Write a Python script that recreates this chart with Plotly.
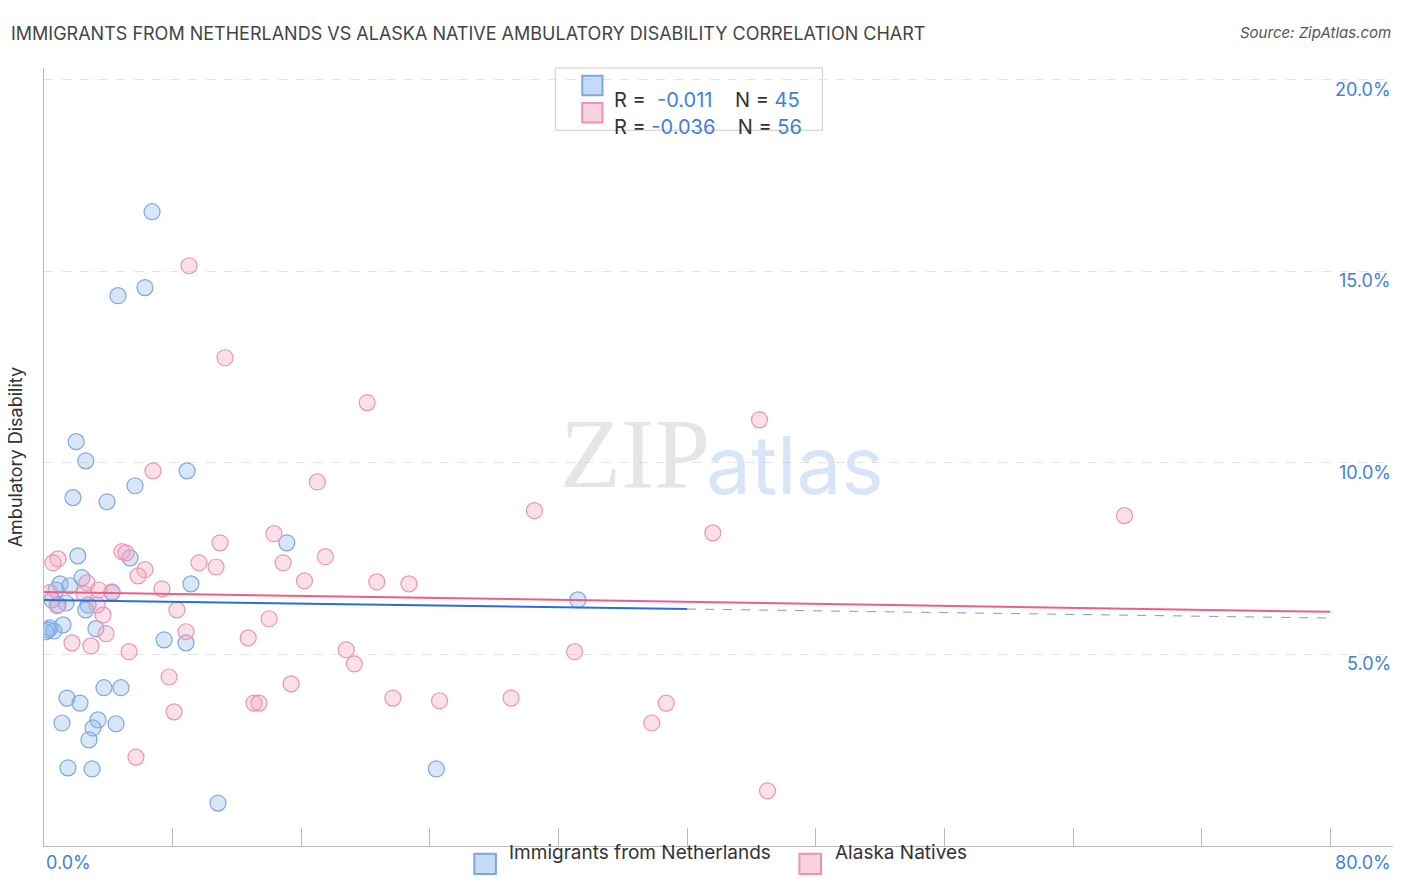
import plotly.graph_objects as go

blue_x = [6.72,6.28,4.6,2.0,2.6,8.9,5.66,1.8,3.92,15.1,2.1,5.35,2.36,1.0,1.6,9.14,4.23,0.75,33.2,2.74,0.87,1.37,1.18,3.23,0.37,0.62,0.25,7.47,8.83,1.43,3.73,4.79,2.24,3.36,1.12,4.48,3.05,2.8,1.49,2.99,24.4,10.82,0.5,0.12,2.6]
blue_y = [16.55,14.57,14.36,10.55,10.05,9.79,9.4,9.09,8.98,7.91,7.57,7.52,7.0,6.84,6.79,6.84,6.61,6.68,6.42,6.29,6.29,6.34,5.77,5.67,5.69,5.61,5.64,5.38,5.3,3.86,4.13,4.13,3.73,3.29,3.21,3.19,3.08,2.77,2.04,2.01,2.01,1.12,6.42,5.59,6.16]
pink_x = [9.02,11.26,20.1,44.5,6.78,17.0,30.5,67.2,41.6,14.3,10.95,4.85,5.1,17.5,0.87,0.56,9.64,10.7,14.87,6.28,5.85,20.7,16.2,22.7,2.67,7.34,4.23,2.49,0.37,3.67,3.3,0.81,8.27,14.0,3.86,8.83,12.7,1.74,2.92,5.29,18.8,33.0,19.3,7.78,15.37,21.7,29.05,24.6,13.06,13.37,38.7,8.09,37.8,5.72,45.0,3.4]
pink_y = [15.14,12.74,11.57,11.12,9.79,9.5,8.75,8.62,8.17,8.15,7.91,7.68,7.65,7.55,7.49,7.39,7.39,7.28,7.39,7.21,7.05,6.89,6.92,6.84,6.87,6.71,6.63,6.58,6.61,6.03,6.29,6.27,6.16,5.93,5.54,5.59,5.43,5.3,5.22,5.07,5.12,5.07,4.75,4.41,4.23,3.86,3.86,3.79,3.73,3.73,3.73,3.5,3.21,2.32,1.44,6.68]
blue_trend = (6.42, -0.0059)   # intercept, slope
pink_trend = (6.63, -0.0065)
y_ticks = [5, 10, 15, 20]
x_ticks = [0, 8, 16, 24, 32, 40, 48, 56, 64, 72, 80]

BLUE = "#3f7fd9"; PINK = "#e8608a"
fig = go.Figure()
fig.add_trace(go.Scatter(x=blue_x, y=blue_y, mode="markers",
    marker=dict(size=16, color="rgba(143,184,236,0.35)", line=dict(color="#7aa8e6", width=1.2))))
fig.add_trace(go.Scatter(x=pink_x, y=pink_y, mode="markers",
    marker=dict(size=16, color="rgba(244,167,192,0.35)", line=dict(color="#eb94b1", width=1.2))))
b0, b1 = blue_trend
fig.add_trace(go.Scatter(x=[0, 40], y=[b0, b0 + b1*40], mode="lines", line=dict(color="#2b6fd6", width=2)))
fig.add_trace(go.Scatter(x=[40, 80], y=[b0 + b1*40, b0 + b1*80], mode="lines", line=dict(color="#6fa0e0", width=1, dash="dash")))
p0, p1 = pink_trend
fig.add_trace(go.Scatter(x=[0, 80], y=[p0, p0 + p1*80], mode="lines", line=dict(color=PINK, width=2)))

ann = []
for t in y_ticks:
    ann.append(dict(x=1, xref="paper", y=t, yref="y", text=f"{t:.1f}%", showarrow=False,
                    xanchor="right", yanchor="bottom", yshift=-22, font=dict(size=18, color=BLUE)))
ann += [
    dict(x=0, xref="paper", y=-0.005, yref="paper", text="0.0%", showarrow=False, xanchor="left", yanchor="top", font=dict(size=18, color=BLUE)),
    dict(x=1, xref="paper", y=-0.005, yref="paper", text="80.0%", showarrow=False, xanchor="right", yanchor="top", font=dict(size=18, color=BLUE)),
    dict(x=-0.026, xref="paper", y=1.06, yref="paper", text="IMMIGRANTS FROM NETHERLANDS VS ALASKA NATIVE AMBULATORY DISABILITY CORRELATION CHART", showarrow=False, xanchor="left", font=dict(size=18, color="#444")),
    dict(x=1.0, xref="paper", y=1.06, yref="paper", text="<i>Source: ZipAtlas.com</i>", showarrow=False, xanchor="right", font=dict(size=15, color="#555")),
    dict(x=-0.012, xref="paper", y=0.5, yref="paper", text="Ambulatory Disability", textangle=-90, showarrow=False, xanchor="right", font=dict(size=18, color="#333")),
    dict(x=0.438, xref="paper", y=0.505, yref="paper", text="ZIP", showarrow=False, font=dict(size=100, color="rgba(180,180,180,0.35)", family="Liberation Serif")),
    dict(x=0.557, xref="paper", y=0.49, yref="paper", text="atlas", showarrow=False, font=dict(size=80, color="rgba(140,180,230,0.35)")),
    dict(x=0.421, xref="paper", y=0.977, yref="paper", text="R =  <span style='color:#3f7fd9'>-0.011</span>    N = <span style='color:#3f7fd9'>45</span>", showarrow=False, xanchor="left", font=dict(size=20, color="#333")),
    dict(x=0.421, xref="paper", y=0.942, yref="paper", text="R = <span style='color:#3f7fd9'>-0.036</span>    N = <span style='color:#3f7fd9'>56</span>", showarrow=False, xanchor="left", font=dict(size=20, color="#333")),
    dict(x=0.343, xref="paper", y=-0.026, yref="paper", text="Immigrants from Netherlands", showarrow=False, xanchor="left", font=dict(size=19, color="#333")),
    dict(x=0.585, xref="paper", y=-0.026, yref="paper", text="Alaska Natives", showarrow=False, xanchor="left", font=dict(size=19, color="#333")),
]
shapes = [
    dict(type="rect", xref="paper", yref="paper", x0=0.379, x1=0.577, y0=0.920, y1=1.0, line=dict(color="#ccc", width=1), fillcolor="white", layer="below"),
    dict(type="rect", xref="paper", yref="paper", x0=0.399, x1=0.414, y0=0.965, y1=0.99, line=dict(color="#7aa8e6"), fillcolor="rgba(143,184,236,0.5)"),
    dict(type="rect", xref="paper", yref="paper", x0=0.399, x1=0.414, y0=0.93, y1=0.955, line=dict(color="#eb94b1"), fillcolor="rgba(244,167,192,0.5)"),
    dict(type="rect", xref="paper", yref="paper", x0=0.319, x1=0.335, y0=-0.036, y1=-0.010, line=dict(color="#7aa8e6"), fillcolor="rgba(143,184,236,0.5)"),
    dict(type="rect", xref="paper", yref="paper", x0=0.560, x1=0.576, y0=-0.036, y1=-0.010, line=dict(color="#eb94b1"), fillcolor="rgba(244,167,192,0.5)"),
]
fig.update_layout(width=1406, height=892, showlegend=False, plot_bgcolor="white", paper_bgcolor="white",
    margin=dict(l=36, r=21, t=60, b=54), annotations=ann, shapes=shapes,
    font=dict(family="Inter"),
    xaxis=dict(range=[0, 83.9], tickvals=x_ticks, ticktext=[""]*len(x_ticks), ticks="inside", ticklen=18,
               tickcolor="#bbb", showgrid=False, zeroline=False, showline=True, linecolor="#bbb"),
    yaxis=dict(range=[0, 20.3], tickvals=y_ticks, showticklabels=False, gridcolor="#e4e4e4", griddash="dash",
               zeroline=False, showline=True, linecolor="#bbb"))
fig.write_html("out.html")
